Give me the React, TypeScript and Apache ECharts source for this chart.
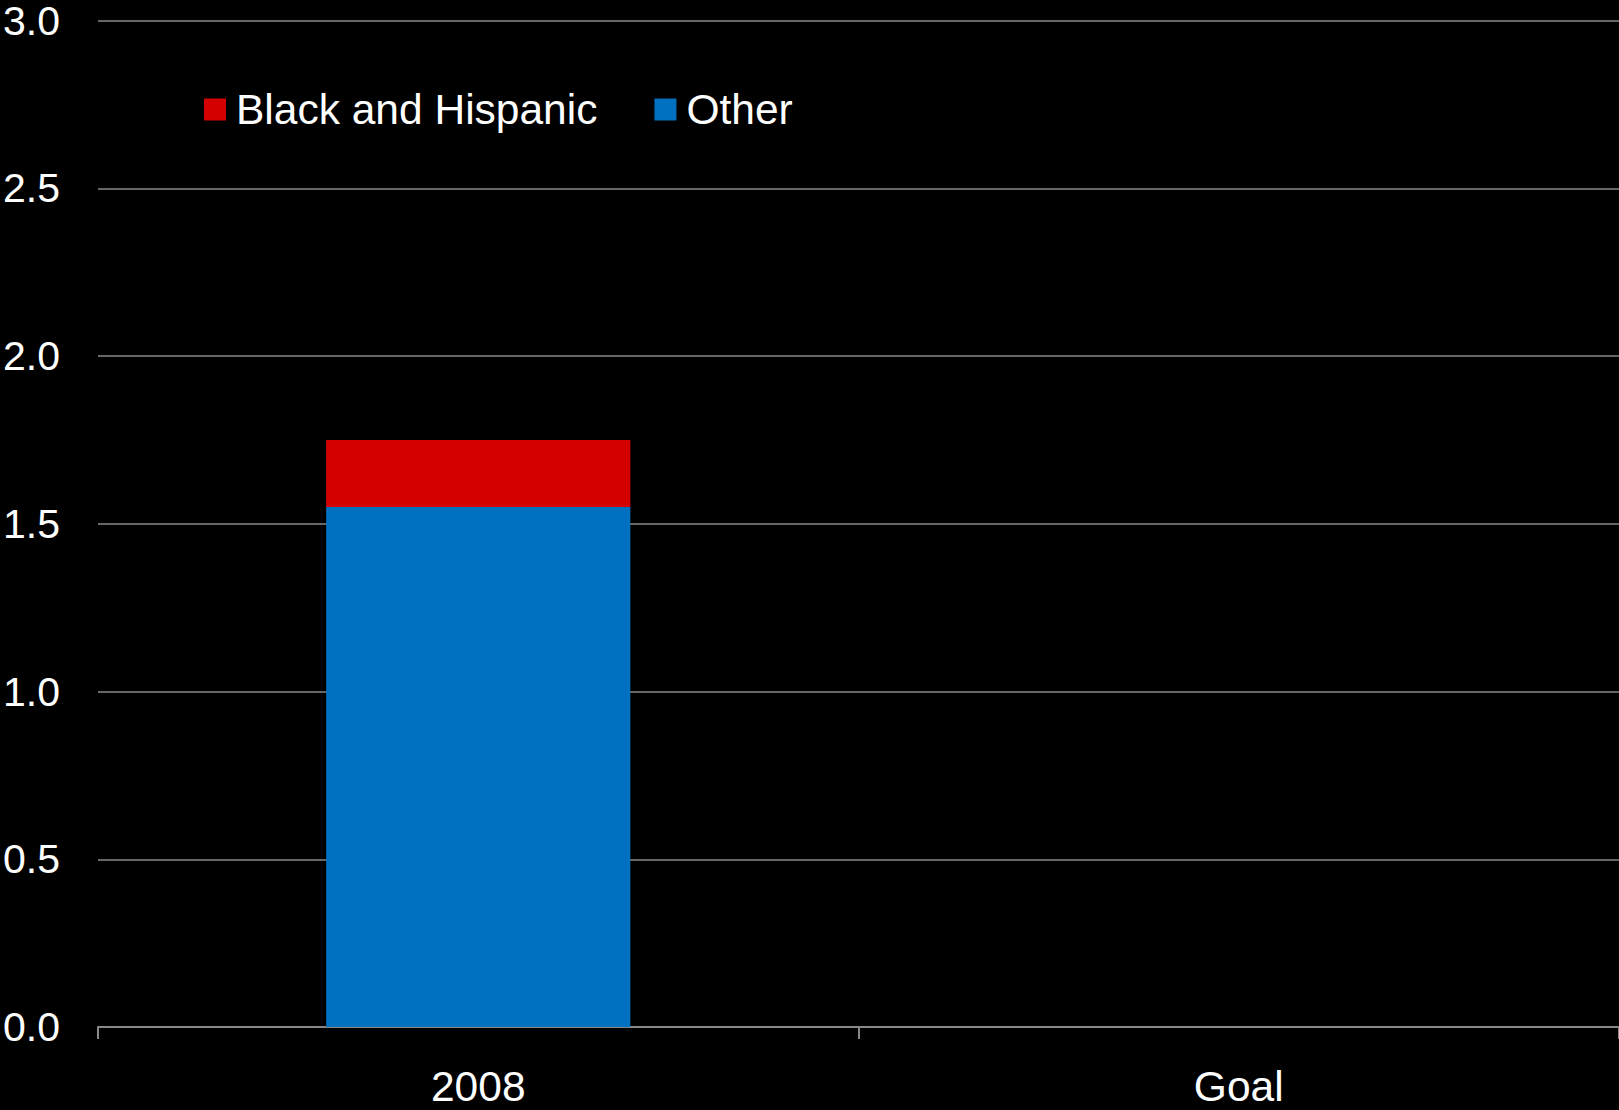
import React, { useEffect, useRef } from "react";
import * as echarts from "echarts";

const categories = ["2008", "Goal"];
const seriesNames = ["Black and Hispanic", "Other"];
const blackHispanic: (number | null)[] = [0.2, null];
const other: (number | null)[] = [1.55, null];
const yTicks = { min: 0, max: 3, interval: 0.5 };

const FONT = "'Liberation Sans', Arial, Helvetica, sans-serif";
const GRAY = "#888888";

export default function App() {
  const ref = useRef<HTMLDivElement>(null);
  useEffect(() => {
    document.body.style.margin = "0";
    document.body.style.background = "#000";
    const chart = echarts.init(ref.current!, null, { renderer: "svg" });
    chart.setOption({
      animation: false,
      backgroundColor: "#000000",
      textStyle: { fontFamily: FONT },
      legend: {
        left: 199,
        top: 83,
        icon: "rect",
        itemWidth: 22,
        itemHeight: 22,
        itemGap: 57,
        data: seriesNames,
        textStyle: { color: "#ffffff", fontSize: 42.5, fontFamily: FONT, padding: [0, 0, 0, 5] },
      },
      grid: { left: 98, right: 0, top: 17, bottom: 83, containLabel: false },
      xAxis: {
        type: "category",
        data: categories,
        boundaryGap: true,
        axisLine: { show: true, lineStyle: { color: GRAY, width: 2 } },
        axisTick: { show: true, length: 12, lineStyle: { color: GRAY, width: 2 } },
        axisLabel: { color: "#ffffff", fontSize: 42.5, fontFamily: FONT, margin: 38 },
      },
      yAxis: {
        type: "value",
        min: yTicks.min,
        max: yTicks.max,
        interval: yTicks.interval,
        axisLine: { show: false },
        axisTick: { show: false },
        splitLine: { show: true, lineStyle: { color: GRAY, width: 1.5 } },
        axisLabel: {
          color: "#ffffff",
          fontSize: 41,
          fontFamily: FONT,
          margin: 38,
          formatter: (v: number) => v.toFixed(1),
        },
      },
      series: [
        {
          name: "Other",
          type: "bar",
          stack: "total",
          barWidth: "40%",
          itemStyle: { color: "#0070C0" },
          data: other,
        },
        {
          name: "Black and Hispanic",
          type: "bar",
          stack: "total",
          barWidth: "40%",
          itemStyle: { color: "#D40000" },
          data: blackHispanic,
        },
      ],
    });
    return () => chart.dispose();
  }, []);
  return (
    <div
      ref={ref}
      style={{ position: "absolute", left: 0, top: 0, width: 1619, height: 1110 }}
    />
  );
}
